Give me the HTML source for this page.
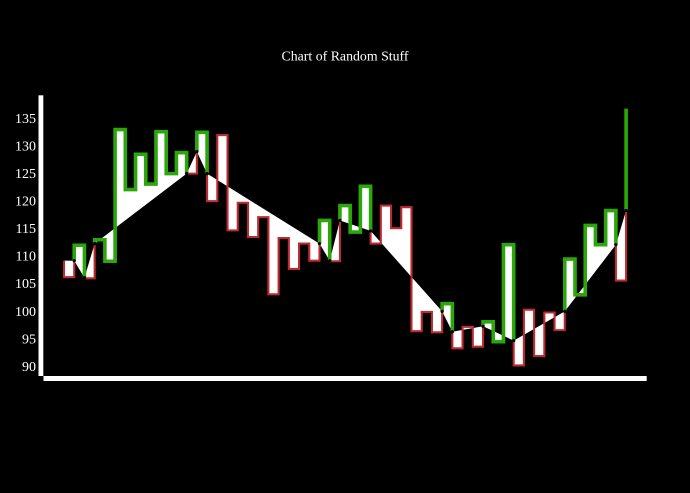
<!DOCTYPE html>
<html lang="en">
<head>
<meta charset="utf-8">
<title>Chart of Random Stuff</title>
<style>
html,body{margin:0;padding:0;background:#000;width:690px;height:493px;overflow:hidden}
svg{display:block;position:absolute;left:0;top:0}
text{font-family:"Liberation Serif",serif;fill:#fff;font-size:14px}
#chart-title{font-size:13.85px}
</style>
</head>
<body>
<svg id="chart" width="690" height="493" viewBox="0 0 690 493">
<text id="chart-title" x="345" y="60.4" text-anchor="middle">Chart of Random Stuff</text>
<g id="y-ticks"></g>
<g id="fills"></g>
<g id="strokes"></g>
<g id="dots"></g>
<rect x="38.5" y="95.3" width="4.8" height="280.7" fill="#fff"/>
<rect x="43.5" y="376" width="603.2" height="5" fill="#fff"/>
</svg>
<script>
var tickLabels = [90, 95, 100, 105, 110, 115, 120, 125, 130, 135];
var stepValues = [106.2, 112.0, 106.0, 113.0, 109.1, 133.0, 122.1, 128.5, 123.1, 132.6,
  125.0, 128.8, 125.0, 132.5, 120.0, 132.0, 114.7, 119.7, 113.5, 117.1,
  103.1, 113.3, 107.7, 112.3, 109.2, 116.5, 109.1, 119.2, 114.4, 122.7,
  112.3, 119.2, 115.1, 118.9, 96.4, 99.9, 96.2, 101.4, 93.3, 97.2,
  93.6, 98.1, 94.5, 112.1, 90.2, 100.3, 91.9, 99.8, 96.6, 109.5,
  103.0, 115.6, 112.1, 118.3, 105.6, 136.8];
var knotIndex = [0, 1, 2, 3, 12, 13, 14, 25, 26, 27, 30, 37, 38, 41, 44, 49, 54, 55];
var knotValues = [109.2, 109.2, 106.1, 112.3, 125.0, 129.0, 125.0, 112.3, 109.2, 116.5, 114.6, 100.0, 96.3, 97.3, 94.7, 100.0, 112.1, 118.3];
var segmentTrend = ['down', 'up', 'down', 'up', 'down', 'up', 'down', 'up', 'down', 'up', 'down', 'up', 'down', 'up', 'down', 'up', 'down', 'up'];

var NS = 'http://www.w3.org/2000/svg';
var trendColor = { up: '#2ca70b', down: '#bd2a30' };
var trendWidth = { up: 3.6, down: 2.1 };

function xScale(i) { return 64 + i * 10.22; }
function yScale(v) { return 366.5 - (v - 90) * 5.511; }

var tickGroup = document.getElementById('y-ticks');
tickLabels.forEach(function (t) {
  var el = document.createElementNS(NS, 'text');
  el.setAttribute('x', 36);
  el.setAttribute('y', yScale(t) + 4.4);
  el.setAttribute('text-anchor', 'end');
  
  
  el.textContent = t;
  tickGroup.appendChild(el);
});

function segmentPath(k) {
  var a = knotIndex[k], b = knotIndex[k + 1];
  var d = 'M' + xScale(a) + ',' + yScale(knotValues[k]) + 'L' + xScale(a) + ',' + yScale(stepValues[a]);
  for (var i = a; i < b; i++) {
    d += 'L' + xScale(i + 1) + ',' + yScale(stepValues[i]);
    if (i + 1 < b) d += 'L' + xScale(i + 1) + ',' + yScale(stepValues[i + 1]);
  }
  d += 'L' + xScale(b) + ',' + yScale(knotValues[k + 1]);
  return d;
}

var fills = document.getElementById('fills');
var strokes = document.getElementById('strokes');
for (var k = 0; k < knotIndex.length - 1; k++) {
  var d = segmentPath(k);
  var f = document.createElementNS(NS, 'path');
  f.setAttribute('d', d + 'Z');
  f.setAttribute('fill', '#fff');
  
  
  fills.appendChild(f);
  var s = document.createElementNS(NS, 'path');
  s.setAttribute('d', d);
  s.setAttribute('fill', 'none');
  s.setAttribute('stroke', trendColor[segmentTrend[k]]);
  s.setAttribute('stroke-width', trendWidth[segmentTrend[k]]);
  
  
  strokes.appendChild(s);
}

var lastKnot = knotIndex.length - 1;
var spike = document.createElementNS(NS, 'path');
spike.setAttribute('d', 'M' + xScale(knotIndex[lastKnot]) + ',' + yScale(knotValues[lastKnot]) + 'L' + xScale(knotIndex[lastKnot]) + ',' + yScale(stepValues[knotIndex[lastKnot]]));
spike.setAttribute('fill', 'none');
spike.setAttribute('stroke', trendColor[segmentTrend[lastKnot]]);
spike.setAttribute('stroke-width', trendWidth[segmentTrend[lastKnot]]);


strokes.appendChild(spike);

var dots = document.getElementById('dots');
for (var n = 1; n < knotIndex.length; n++) {
  var c = document.createElementNS(NS, 'circle');
  c.setAttribute('cx', xScale(knotIndex[n]));
  c.setAttribute('cy', yScale(knotValues[n]));
  c.setAttribute('r', 1.6);
  c.setAttribute('fill', '#000');
  
  
  dots.appendChild(c);
}
</script>
</body>
</html>
